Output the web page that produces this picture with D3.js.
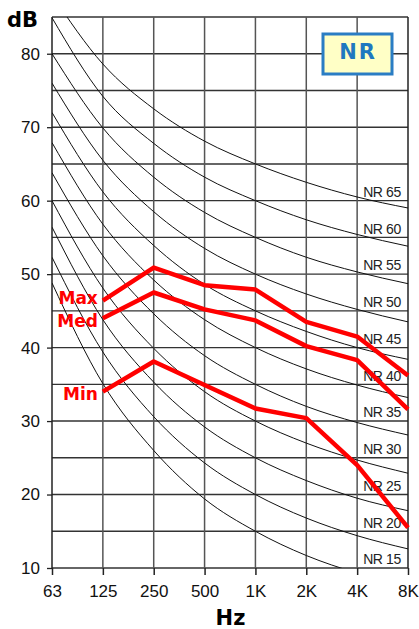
<!DOCTYPE html>
<html>
<head>
<meta charset="utf-8">
<script src="https://cdn.jsdelivr.net/npm/d3@7"></script>
<style>
  body { margin: 0; background: #fff; }
  svg { display: block; }
  .tick text { font-family: "Liberation Sans", Arial, sans-serif; font-size: 17px; fill: #111; }
</style>
</head>
<body>
<svg width="419" height="629"></svg>
<script>
'use strict';
// octave bands
var bands = ['63', '125', '250', '500', '1K', '2K', '4K', '8K'];
var yTicks = [10, 20, 30, 40, 50, 60, 70, 80];
var gridLevels = [10, 15, 20, 25, 30, 35, 40, 45, 50, 55, 60, 65, 70, 75, 80, 85];

// NR curves, dB per octave band
var nrLevels = [15, 20, 25, 30, 35, 40, 45, 50, 55, 60, 65];
var nrCurves = [
  [48.8, 35.1, 26.0, 19.4, 15, 11.7, 9.3, 7.5],
  [52.3, 39.4, 30.6, 24.3, 20, 16.8, 14.4, 12.6],
  [56.4, 43.8, 35.3, 29.2, 25, 21.9, 19.5, 17.8],
  [60.0, 48.1, 39.9, 34.0, 30, 27.0, 24.7, 22.9],
  [63.8, 52.5, 44.6, 38.9, 35, 32.0, 29.8, 28.1],
  [67.9, 56.8, 49.2, 43.8, 40, 37.1, 34.9, 33.2],
  [72.0, 61.2, 53.9, 48.6, 45, 42.2, 40.0, 38.4],
  [76.0, 65.5, 58.5, 53.5, 50, 47.3, 45.2, 43.5],
  [80.0, 69.9, 63.2, 58.4, 55, 52.3, 50.3, 48.7],
  [84.9, 74.2, 67.8, 63.2, 60, 57.4, 55.4, 53.8],
  [88.0, 78.6, 72.5, 68.1, 65, 62.5, 60.5, 59.0]
];

// measured spectra, 125 Hz .. 8K
var seriesNames = ['Max', 'Med', 'Min'];
var maxValues = [46.4, 50.9, 48.5, 47.9, 43.5, 41.5, 36.2];
var medValues = [44.0, 47.5, 45.2, 43.7, 40.2, 38.3, 31.6];
var minValues = [34.0, 38.1, 34.9, 31.7, 30.4, 24.0, 15.5];

(() => {
  var svg = d3.select('svg');
  var left = 52, right = 408, plotTop = 17, bottom = 568;

  var x = d3.scalePoint().domain(bands).range([left, right]);
  var y = d3.scaleLinear().domain([10, 85]).range([bottom, plotTop]);

  svg.append('defs').append('clipPath').attr('id', 'plot')
    .append('rect')
      .attr('x', left).attr('y', plotTop)
      .attr('width', right - left).attr('height', bottom - plotTop);

  // grid
  svg.append('g').selectAll('line').data(gridLevels).enter().append('line')
    .attr('x1', left).attr('x2', right)
    .attr('y1', d => y(d)).attr('y2', d => y(d))
    .attr('stroke', '#333').attr('stroke-width', 1.4);
  svg.append('g').selectAll('line').data(bands).enter().append('line')
    .attr('x1', d => x(d)).attr('x2', d => x(d))
    .attr('y1', plotTop).attr('y2', bottom)
    .attr('stroke', d => d === '63' || d === '8K' ? '#222' : '#555')
    .attr('stroke-width', 1.5);

  // NR curves
  var curveLine = d3.line()
    .x((d, i) => x(bands[i]))
    .y(d => y(d))
    .curve(d3.curveMonotoneX);
  svg.append('g').attr('clip-path', 'url(#plot)')
    .selectAll('path').data(nrCurves).enter().append('path')
      .attr('d', curveLine)
      .attr('fill', 'none')
      .attr('stroke', '#111')
      .attr('stroke-width', 1);

  svg.append('g').selectAll('text').data(nrLevels).enter().append('text')
    .attr('x', x('4K') + 6)
    .attr('y', d => y(d - 4.5))
    .attr('font-family', '"Liberation Sans", Arial, sans-serif')
    .attr('font-size', 14)
    .attr('letter-spacing', -0.4)
    .attr('fill', '#222')
    .text(d => 'NR ' + d);

  // axes
  var yAxis = svg.append('g')
    .attr('transform', `translate(${left},0)`)
    .call(d3.axisLeft(y).tickValues(yTicks).tickSize(5).tickPadding(7));
  yAxis.select('.domain').remove();
  yAxis.selectAll('.tick line').attr('stroke', '#222').attr('stroke-width', 1.3);

  var xAxis = svg.append('g')
    .attr('transform', `translate(0,${bottom})`)
    .call(d3.axisBottom(x).tickSize(7).tickPadding(10));
  xAxis.select('.domain').remove();
  xAxis.selectAll('.tick line').attr('stroke', '#222').attr('stroke-width', 1.5);

  // spectra
  var seriesBands = bands.slice(1);
  var series = [maxValues, medValues, minValues];
  var labelShift = [3, 9, 8];
  var dataLine = d3.line()
    .x((d, i) => x(seriesBands[i]))
    .y(d => y(d));
  svg.append('g').selectAll('path').data(series).enter().append('path')
    .attr('d', dataLine)
    .attr('fill', 'none')
    .attr('stroke', '#ff0000')
    .attr('stroke-width', 4.5)
    .attr('stroke-linejoin', 'round');

  svg.append('g').selectAll('text').data(series).enter().append('text')
    .attr('x', x('125') - 5)
    .attr('y', (d, i) => y(d[0]) + labelShift[i])
    .attr('text-anchor', 'end')
    .attr('font-family', '"DejaVu Sans", sans-serif')
    .attr('font-weight', 'bold')
    .attr('font-size', 17)
    .attr('fill', '#ff0000')
    .text((d, i) => seriesNames[i]);

  // titles
  svg.append('text')
    .attr('x', 7).attr('y', 27)
    .attr('font-family', '"DejaVu Sans", sans-serif')
    .attr('font-weight', 'bold').attr('font-size', 21)
    .text('dB');
  svg.append('text')
    .attr('x', (left + right) / 2 + 0.5).attr('y', 625)
    .attr('text-anchor', 'middle')
    .attr('font-family', '"DejaVu Sans", sans-serif')
    .attr('font-weight', 'bold').attr('font-size', 21)
    .text('Hz');

  // NR badge
  var badge = svg.append('g').attr('transform', 'translate(323,34)');
  badge.append('rect')
    .attr('width', 69).attr('height', 40)
    .attr('fill', '#ffffc6')
    .attr('stroke', '#2a7dc4')
    .attr('stroke-width', 3);
  badge.append('text')
    .attr('x', 35).attr('y', 25)
    .attr('text-anchor', 'middle')
    .attr('font-family', '"DejaVu Sans", sans-serif')
    .attr('font-weight', 'bold').attr('font-size', 21)
    .attr('letter-spacing', 2)
    .attr('fill', '#1f78c0')
    .text('NR');
})();
</script>
</body>
</html>
